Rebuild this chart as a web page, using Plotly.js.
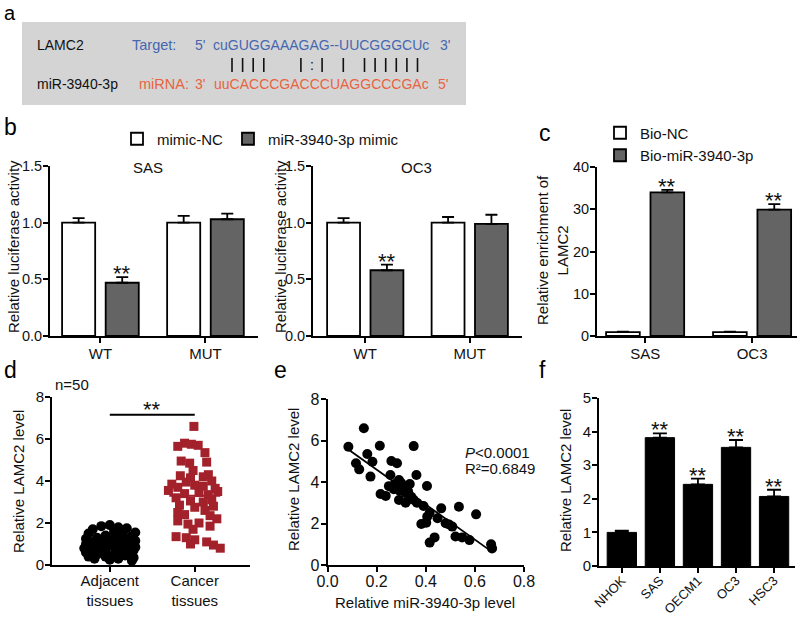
<!DOCTYPE html>
<html>
<head>
<meta charset="utf-8">
<script src="https://cdn.plot.ly/plotly-3.0.1.min.js"></script>
<style>
html,body{margin:0;padding:0;background:#fff;}
#chart{width:800px;height:617px;}
</style>
</head>
<body>
<div id="chart"></div>
<script>
// ================= DATA =================
// (a) binding site
const geneName = "LAMC2";
const mirName = "miR-3940-3p";
const targetLabel = "Target:";
const mirnaLabel = "miRNA:";
const targetSeq = "cuGUGGAAAGAG--UUCGGGCUc";
const mirnaSeq = "uuCACCCGACCCUAGGCCCGAc";
const pairPattern = "| | | |      | : |   |   | | | | | |";

// (b) luciferase activity
const lucCategories = ["WT", "MUT"];
const sasNC = [1.00, 1.00];
const sasNCErr = [0.04, 0.06];
const sasMimic = [0.47, 1.03];
const sasMimicErr = [0.05, 0.05];
const sasSig = ["**", ""];
const oc3NC = [1.00, 1.00];
const oc3NCErr = [0.04, 0.05];
const oc3Mimic = [0.58, 0.99];
const oc3MimicErr = [0.05, 0.08];
const oc3Sig = ["**", ""];

// (c) biotin pull-down
const pullCategories = ["SAS", "OC3"];
const bioNC = [0.9, 0.9];
const bioNCErr = [0.12, 0.12];
const bioMiR = [34.0, 29.9];
const bioMiRErr = [0.6, 1.3];
const pullSig = ["**", "**"];

// (d) tissues, n=50
const tissueCategories = ["Adjacent<br>tissues", "Cancer<br>tissues"];
const adjacentLevel = [1.9,1.85,1.8,1.75,1.7,1.6,1.55,1.5,1.45,1.4,
  1.35,1.3,1.3,1.25,1.2,1.2,1.15,1.1,1.1,1.05,
  1.0,1.0,0.95,0.95,0.9,0.9,0.85,0.85,0.8,0.8,
  0.75,0.75,0.7,0.7,0.65,0.6,0.6,0.55,0.5,0.5,
  0.45,0.4,0.4,0.35,0.3,0.3,0.25,0.2,1.0,0.95];
const adjacentJitter = [0.0,-0.1,0.1,0.2,-0.2,0.05,0.3,-0.25,0.15,-0.05,
  0.25,-0.15,0.05,-0.28,0.18,-0.05,0.3,-0.2,0.08,0.22,
  -0.1,-0.28,0.28,0.0,0.15,-0.2,0.05,0.3,-0.12,-0.3,
  0.2,0.08,-0.22,0.28,-0.05,0.12,-0.28,0.25,-0.15,0.05,
  0.18,-0.25,-0.05,0.28,0.1,-0.18,0.0,0.26,0.12,-0.15];
const cancerLevel = [6.6,
  5.8,5.75,5.7,5.65,
  5.35,
  4.95,4.9,4.85,
  4.5,4.3,
  4.25,4.2,4.15,4.0,3.95,
  3.85,3.8,3.75,3.7,3.65,
  3.55,3.5,3.45,3.4,3.35,
  3.2,3.1,3.05,3.0,
  2.85,2.8,2.75,2.6,2.5,
  2.4,2.35,2.2,2.1,2.0,
  1.95,1.85,1.7,
  1.35,1.3,1.2,
  1.1,1.0,0.95,0.8];
const cancerJitter = [-0.01,
  -0.12,-0.04,0.04,-0.2,
  0.12,
  -0.16,0.14,-0.06,
  -0.02,0.16,
  -0.17,0.1,-0.05,0.2,-0.1,
  -0.27,0.0,0.1,-0.2,0.24,
  -0.31,0.27,0.05,-0.12,0.16,
  -0.22,0.2,-0.05,0.1,
  -0.18,0.22,0.0,0.12,-0.2,
  -0.12,0.18,0.26,-0.2,0.05,
  -0.08,0.18,-0.02,
  -0.22,-0.1,0.0,
  0.14,-0.05,0.22,0.3];
const tissueSig = "**";
const tissueSigLevel = 7.15;
const sampleLabel = "n=50";

// (e) correlation
const mirLevel = [0.085,0.148,0.213,0.351,0.162,0.116,0.129,0.183,0.175,0.260,
  0.283,0.362,0.256,0.291,0.274,0.335,0.405,0.216,0.237,0.294,
  0.318,0.341,0.291,0.318,0.364,0.391,0.463,0.535,0.605,0.416,
  0.406,0.481,0.382,0.402,0.508,0.521,0.548,0.578,0.436,0.416,
  0.666,0.670,0.305,0.328,0.250,0.448,0.495,0.350,0.300,0.270];
const lamc2Level = [5.70,6.59,5.75,5.73,5.35,4.90,4.61,4.98,4.26,5.01,
  4.90,4.34,4.34,4.10,3.90,3.90,3.81,3.42,3.33,3.58,
  3.46,3.29,3.13,3.00,3.00,2.84,2.73,2.81,2.44,2.52,
  2.33,2.01,1.98,2.04,1.85,1.37,1.33,1.20,1.33,1.08,
  1.00,0.80,3.70,3.55,3.80,2.25,1.95,3.15,3.95,3.65];
const corrP = "<i>P</i>&lt;0.0001";
const corrR2 = "R\u00B2=0.6849";

// (f) cell lines
const cellLines = ["NHOK", "SAS", "OECM1", "OC3", "HSC3"];
const cellLevel = [1.00, 3.82, 2.43, 3.53, 2.07];
const cellErr = [0.05, 0.13, 0.17, 0.22, 0.20];
const cellSig = ["", "**", "**", "**", "**"];

// ================= LAYOUT HELPERS =================
const W = 800, H = 617;
const FONT = "Liberation Sans, Arial, Helvetica, sans-serif";
const X = p => p / W;
const Y = p => 1 - p / H;
const TXT = '#111';
const GRAY = '#646464';
const BW = 0.315, OFF_NC = -0.365, OFF_MI = 0.05;

const annotations = [];
const shapes = [];
function ann(text, x, y, o) {
  o = o || {};
  annotations.push(Object.assign({
    text: text, x: X(x), y: Y(y), xref: 'paper', yref: 'paper', showarrow: false,
    xanchor: 'left', yanchor: 'middle'
  }, o, {font: Object.assign({family: FONT, size: 15, color: TXT}, o.font || {})}));
}
function ytitle(text, x, y) { ann(text, x, y, {xanchor: 'center', textangle: -90}); }

const base = {showline: true, linecolor: '#000', linewidth: 2, ticks: 'outside', ticklen: 5, tickwidth: 2,
  tickcolor: '#000', showgrid: false, zeroline: false, fixedrange: true, ticklabelstandoff: -2,
  tickfont: {family: FONT, size: 15, color: TXT}};
const smallTick = {tickfont: {family: FONT, size: 14.5, color: TXT}};
function xa(l, r, range, anchor, extra) { return Object.assign({}, base, {domain: [X(l), X(r)], range: range, anchor: anchor}, extra || {}); }
function ya(top, bot, range, anchor, extra) { return Object.assign({}, base, {domain: [Y(bot), Y(top)], range: range, anchor: anchor}, extra || {}); }
const zeros = n => new Array(n).fill(0);
function errUp(arr, w) { return {type: 'data', array: arr, arrayminus: zeros(arr.length), symmetric: false, color: '#000', thickness: 1.8, width: w || 6}; }

const traces = [];
function groupedBars(cats, nc, ncErr, mi, miErr, xa_, ya_, ncName, miName, legendId, showLeg) {
  traces.push({type: 'bar', x: cats, y: nc, xaxis: xa_, yaxis: ya_, width: BW, offset: OFF_NC,
    marker: {color: '#fff', line: {color: '#000', width: 1.8}}, error_y: errUp(ncErr),
    name: ncName, legend: legendId, showlegend: showLeg, hoverinfo: 'skip'});
  traces.push({type: 'bar', x: cats, y: mi, xaxis: xa_, yaxis: ya_, width: BW, offset: OFF_MI,
    marker: {color: GRAY, line: {color: '#000', width: 1.8}}, error_y: errUp(miErr),
    name: miName, legend: legendId, showlegend: showLeg, hoverinfo: 'skip'});
}
function stars(sig, xs, tops, xref, yref) {
  sig.forEach((s, i) => {
    if (!s) return;
    annotations.push({text: s, x: xs[i], y: tops[i], xref: xref, yref: yref, showarrow: false,
      xanchor: 'center', yanchor: 'bottom', yshift: -11, font: {family: FONT, size: 22, color: TXT}});
  });
}

// ---------- (a) ----------
shapes.push({type: 'rect', xref: 'paper', yref: 'paper', x0: X(22), x1: X(466), y0: Y(105), y1: Y(22),
  fillcolor: '#d4d4d4', line: {width: 0}, layer: 'below'});
const BLUE = '#4467b0', RED = '#e9633f';
ann(geneName, 35, 45, {font: {size: 14}});
ann(mirName, 35, 84, {font: {size: 14}});
ann(targetLabel, 130, 45, {font: {size: 14.5, color: BLUE}});
ann("5'", 193, 45, {font: {size: 14, color: BLUE}});
ann(targetSeq, 211, 45, {font: {size: 14, color: BLUE}});
ann("3'", 438, 45, {font: {size: 14, color: BLUE}});
ann(mirnaLabel, 137, 84, {font: {size: 14.5, color: RED}});
ann("3'", 193, 84, {font: {size: 14, color: RED}});
ann(mirnaSeq, 212, 84, {font: {size: 14, color: RED}});
ann("5'", 436, 84, {font: {size: 14, color: RED}});
pairPattern.split('').forEach((c, i) => {
  const xp = 232 + i * 5.3;
  if (c === '|') {
    shapes.push({type: 'line', xref: 'paper', yref: 'paper', x0: X(xp), x1: X(xp), y0: Y(72), y1: Y(58),
      line: {color: '#111', width: 1.6}});
  } else if (c !== ' ') {
    ann(c, xp, 65, {xanchor: 'center', font: {size: 14, color: '#111'}});
  }
});

// ---------- (b) ----------
groupedBars(lucCategories, sasNC, sasNCErr, sasMimic, sasMimicErr, 'x', 'y', 'mimic-NC', 'miR-3940-3p mimic', 'legend', true);
groupedBars(lucCategories, oc3NC, oc3NCErr, oc3Mimic, oc3MimicErr, 'x2', 'y2', 'mimic-NC', 'miR-3940-3p mimic', 'legend', false);
const miCenter = lucCategories.map((c, i) => i + OFF_MI + BW / 2);
stars(sasSig, miCenter, sasMimic.map((v, i) => v + sasMimicErr[i]), 'x', 'y');
stars(oc3Sig, miCenter, oc3Mimic.map((v, i) => v + oc3MimicErr[i]), 'x2', 'y2');
ann("SAS", 148, 168, {xanchor: 'center'});
ann("OC3", 416, 168, {xanchor: 'center'});
ytitle("Relative luciferase activity", 13, 247);
ytitle("Relative luciferase activity", 280, 247);

// ---------- (c) ----------
groupedBars(pullCategories, bioNC, bioNCErr, bioMiR, bioMiRErr, 'x3', 'y3', 'Bio-NC', 'Bio-miR-3940-3p', 'legend2', true);
stars(pullSig, pullCategories.map((c, i) => i + OFF_MI + BW / 2), bioMiR.map((v, i) => v + bioMiRErr[i]), 'x3', 'y3');
ytitle("Relative enrichment of<br>LAMC2", 553, 250);

// ---------- (d) ----------
const mean = a => a.reduce((s, v) => s + v, 0) / a.length;
const RED_D = '#a3212a';
[[adjacentLevel, '#000'], [cancerLevel, RED_D]].forEach(([arr, col], g) => {
  const m = mean(arr);
  traces.push({type: 'scatter', mode: 'lines', x: [g - 0.3, g + 0.3], y: [m, m], xaxis: 'x4', yaxis: 'y4',
    line: {color: col, width: 2}, showlegend: false, hoverinfo: 'skip'});
});
traces.push({type: 'scatter', mode: 'markers', x: adjacentJitter.map(d => 0 + d), y: adjacentLevel,
  xaxis: 'x4', yaxis: 'y4', marker: {symbol: 'circle', size: 10, color: '#000'}, showlegend: false, hoverinfo: 'skip'});
traces.push({type: 'scatter', mode: 'markers', x: cancerJitter.map(d => 1 + d), y: cancerLevel,
  xaxis: 'x4', yaxis: 'y4', marker: {symbol: 'square', size: 9, color: RED_D}, showlegend: false, hoverinfo: 'skip'});
shapes.push({type: 'line', xref: 'x4', yref: 'y4', x0: 0, x1: 1, y0: tissueSigLevel, y1: tissueSigLevel,
  line: {color: '#000', width: 2}});
annotations.push({text: tissueSig, x: 0.5, y: tissueSigLevel, xref: 'x4', yref: 'y4', showarrow: false,
  xanchor: 'center', yanchor: 'bottom', yshift: -9, font: {family: FONT, size: 22, color: TXT}});
ann(sampleLabel, 53, 384);
ytitle("Relative LAMC2 level", 18, 482);

// ---------- (e) ----------
traces.push({type: 'scatter', mode: 'markers', x: mirLevel, y: lamc2Level, xaxis: 'x5', yaxis: 'y5',
  marker: {symbol: 'circle', size: 10, color: '#000'}, showlegend: false, hoverinfo: 'skip'});
(function () {
  const mx = mean(mirLevel), my = mean(lamc2Level);
  let sxy = 0, sxx = 0;
  mirLevel.forEach((x, i) => { sxy += (x - mx) * (lamc2Level[i] - my); sxx += (x - mx) * (x - mx); });
  const b = sxy / sxx, a = my - b * mx;
  const x0 = Math.min(...mirLevel), x1 = Math.max(...mirLevel);
  traces.push({type: 'scatter', mode: 'lines', x: [x0, x1], y: [a + b * x0, a + b * x1], xaxis: 'x5', yaxis: 'y5',
    line: {color: '#000', width: 1.8}, showlegend: false, hoverinfo: 'skip'});
})();
ann(corrP, 463, 452);
ann(corrR2, 463, 469);
ytitle("Relative LAMC2 level", 293, 480);
ann("Relative miR-3940-3p level", 425, 602, {xanchor: 'center'});

// ---------- (f) ----------
traces.push({type: 'bar', x: cellLines, y: cellLevel, xaxis: 'x6', yaxis: 'y6', width: 0.77,
  marker: {color: '#000', line: {color: '#000', width: 1}}, error_y: errUp(cellErr, 7), showlegend: false, hoverinfo: 'skip'});
stars(cellSig, cellLines, cellLevel.map((v, i) => v + cellErr[i]), 'x6', 'y6');
ytitle("Relative LAMC2 level", 566, 481);

// ---------- panel letters ----------
ann("a", 2, 0, {yanchor: 'top', font: {size: 20, color: '#000'}});
[["b", 2, 142], ["c", 537, 148], ["d", 2, 385], ["e", 272, 385], ["f", 537, 385]].forEach(([t, x, y]) => {
  ann(t, x, y, {yanchor: 'bottom', font: {size: 23, color: '#000'}});
});

// ================= LAYOUT =================
const layout = {
  width: W, height: H, margin: {l: 0, r: 0, t: 0, b: 0}, paper_bgcolor: '#fff', plot_bgcolor: 'rgba(0,0,0,0)',
  font: {family: FONT, color: TXT},
  xaxis: xa(50, 258, [-0.48, 1.5], 'y', {type: 'category'}),
  yaxis: ya(166, 336, [0, 1.5], 'x', Object.assign({tickvals: [0, 0.5, 1, 1.5], tickformat: '.1f'}, smallTick)),
  xaxis2: xa(313, 522, [-0.5, 1.5], 'y2', {type: 'category'}),
  yaxis2: ya(166, 336, [0, 1.5], 'x2', Object.assign({tickvals: [0, 0.5, 1, 1.5], tickformat: '.1f'}, smallTick)),
  xaxis3: xa(597, 797, [-0.45, 1.42], 'y3', {type: 'category'}),
  yaxis3: ya(167, 336, [0, 40], 'x3', Object.assign({dtick: 10}, smallTick)),
  xaxis4: xa(52, 250, [-0.68, 1.65], 'y4', {tickvals: [0, 1], ticktext: tissueCategories, ticklabelstandoff: -4}),
  yaxis4: ya(397, 565, [0, 8], 'x4', {dtick: 2}),
  xaxis5: xa(327.5, 524, [0, 0.8], 'y5', {dtick: 0.2, tickformat: '.1f', tickfont: {family: FONT, size: 16, color: TXT}, ticklabelstandoff: -4}),
  yaxis5: ya(399, 565, [0, 8], 'x5', {dtick: 2, tickfont: {family: FONT, size: 16, color: TXT}}),
  xaxis6: xa(599, 795, [-0.6, 4.55], 'y6', {type: 'category', tickangle: -45, ticklabelstandoff: -5,
    tickfont: {family: FONT, size: 13, color: TXT}}),
  yaxis6: ya(398, 566, [0, 5], 'x6', {dtick: 1}),
  legend: {orientation: 'h', x: X(117), y: Y(139), xanchor: 'left', yanchor: 'middle',
    font: {family: FONT, size: 15, color: TXT}, bgcolor: 'rgba(0,0,0,0)', borderwidth: 0,
    itemclick: false, itemdoubleclick: false},
  legend2: {x: X(600), y: Y(144), xanchor: 'left', yanchor: 'middle',
    font: {family: FONT, size: 15, color: TXT}, bgcolor: 'rgba(0,0,0,0)', borderwidth: 0,
    itemclick: false, itemdoubleclick: false},
  showlegend: true,
  annotations: annotations,
  shapes: shapes
};

Plotly.newPlot('chart', traces, layout, {staticPlot: true, displayModeBar: false});
</script>
</body>
</html>
